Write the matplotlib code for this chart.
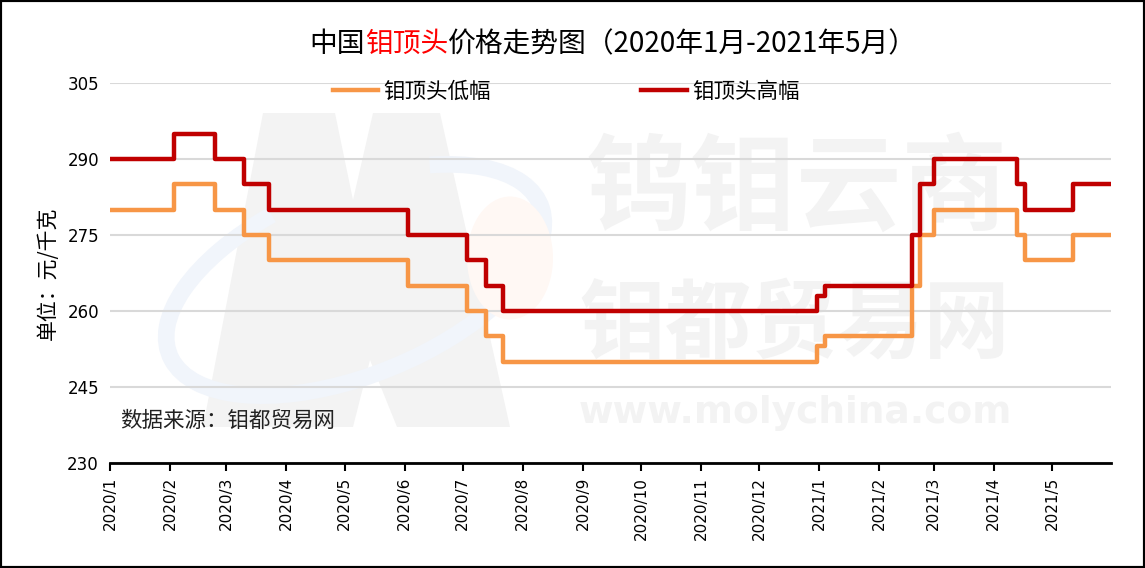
import numpy as np
import pandas as pd
import matplotlib
matplotlib.use('Agg')
import matplotlib.pyplot as plt
from matplotlib.patches import Polygon, Arc, Ellipse, Rectangle
from matplotlib.transforms import IdentityTransform

plt.rcParams['font.family'] = ['Noto Sans CJK SC', 'DejaVu Sans']

# price change dates and levels (元/千克), held until next change
low_dates = ['2020-01-01', '2020-02-03', '2020-02-24', '2020-03-10', '2020-03-23',
             '2020-06-03', '2020-07-03', '2020-07-13', '2020-07-22', '2020-12-31',
             '2021-01-04', '2021-02-18', '2021-02-22', '2021-03-01', '2021-04-13',
             '2021-04-17', '2021-05-12', '2021-05-31']
low_vals = [280, 285, 280, 275, 270, 265, 260, 255, 250, 253, 255, 265, 275, 280,
            275, 270, 275, 275]

high_dates = ['2020-01-01', '2020-02-03', '2020-02-24', '2020-03-10', '2020-03-23',
              '2020-06-03', '2020-07-03', '2020-07-13', '2020-07-22', '2020-12-31',
              '2021-01-04', '2021-02-18', '2021-02-22', '2021-03-01', '2021-04-13',
              '2021-04-17', '2021-05-12', '2021-05-31']
high_vals = [290, 295, 290, 285, 280, 275, 270, 265, 260, 263, 265, 275, 285, 290,
             285, 280, 285, 285]

series_names = ['钼顶头低幅', '钼顶头高幅']
series_colors = ['#f79646', '#c00000']
y_ticks = [230, 245, 260, 275, 290, 305]
month_ticks = pd.date_range('2020-01-01', '2021-05-01', freq='MS')
month_labels = [f'{d.year}/{d.month}' for d in month_ticks]

W, H = 1145, 568
fig = plt.figure(figsize=(W / 100, H / 100), dpi=100)
ax = fig.add_axes([110 / W, 105 / H, 1001 / W, 380 / H])
ax.patch.set_visible(False)

def px(x, y):
    return (x, H - y)

# watermark
wm = '#f3f3f3'
fig.add_artist(Polygon([px(203, 427), px(263, 113), px(335, 113), px(353, 200), px(373, 113),
                        px(440, 113), px(510, 427), px(397, 427), px(370, 360), px(353, 427)],
                       closed=True, facecolor=wm, edgecolor='none',
                       transform=IdentityTransform(), zorder=-3))
fig.add_artist(Arc(px(355, 280), 400, 190, angle=22, theta1=120, theta2=395,
                   color='#f1f5fb', lw=12, transform=IdentityTransform(), zorder=-2))
fig.add_artist(Ellipse(px(510, 258), 86, 123, facecolor='#fff8f4', edgecolor='none',
                       transform=IdentityTransform(), zorder=-2))
fig.text(797 / W, 1 - 190 / H, '钨钼云商', fontsize=76, fontweight='bold', color=wm,
         ha='center', va='center', zorder=-2)
fig.text(795 / W, 1 - 325 / H, '钼都贸易网', fontsize=62, fontweight='bold', color=wm,
         ha='center', va='center', zorder=-2)
fig.text(795 / W, 1 - 413 / H, 'www.molychina.com', fontsize=27, fontweight='bold',
         color=wm, ha='center', va='center', family='DejaVu Sans', zorder=-2)

lines = []
for d, v, c, n in [(low_dates, low_vals, series_colors[0], series_names[0]),
                   (high_dates, high_vals, series_colors[1], series_names[1])]:
    ln, = ax.plot(pd.to_datetime(d), v, drawstyle='steps-post', color=c, lw=3.2,
                  label=n, zorder=3)
    lines.append(ln)

ax.set_ylim(230, 305)
ax.set_yticks(y_ticks)
ax.set_xlim(pd.Timestamp('2020-01-01'), pd.Timestamp('2021-05-31 12:00'))
ax.set_xticks(month_ticks)
ax.set_xticklabels(month_labels, rotation=90, family='DejaVu Sans', fontsize=11)
for lab in ax.get_yticklabels():
    lab.set_family('DejaVu Sans')
    lab.set_fontsize(12)
ax.grid(axis='y', color='#d9d9d9', lw=1.5)
ax.set_axisbelow(True)
for s in ['top', 'right', 'left']:
    ax.spines[s].set_visible(False)
ax.spines['bottom'].set_linewidth(2)
ax.tick_params(axis='x', direction='out', length=6, width=1.5, pad=4)
ax.tick_params(axis='y', length=0, pad=8)

ax.set_ylabel('单位：元/千克', fontsize=15, labelpad=6)

ax.legend(handles=lines, loc='center', bbox_to_anchor=(566 / W, 1 - 92 / H),
          bbox_transform=fig.transFigure, ncol=2, frameon=False, fontsize=15.5,
          handlelength=2.1, handletextpad=0.25, columnspacing=7.0)

fig.text(120 / W, 1 - 421 / H, '数据来源：钼都贸易网', fontsize=15.5, va='center', color='#222222')

# title with red highlight
parts = [('中国', 'black'), ('钼顶头', 'red'), ('价格走势图（2020年1月-2021年5月）', 'black')]
fig.canvas.draw()
r = fig.canvas.get_renderer()
texts = [fig.text(0, 1 - 44 / H, s, color=c, fontsize=20, va='center') for s, c in parts]
widths = [t.get_window_extent(r).width for t in texts]
x0 = 613 - sum(widths) / 2
for t, w in zip(texts, widths):
    t.set_x(x0 / W)
    x0 += w

fig.add_artist(Rectangle((0, 0), 1, 1, transform=fig.transFigure, fill=False,
                         edgecolor='black', lw=3))

fig.savefig('out.png', dpi=100)
